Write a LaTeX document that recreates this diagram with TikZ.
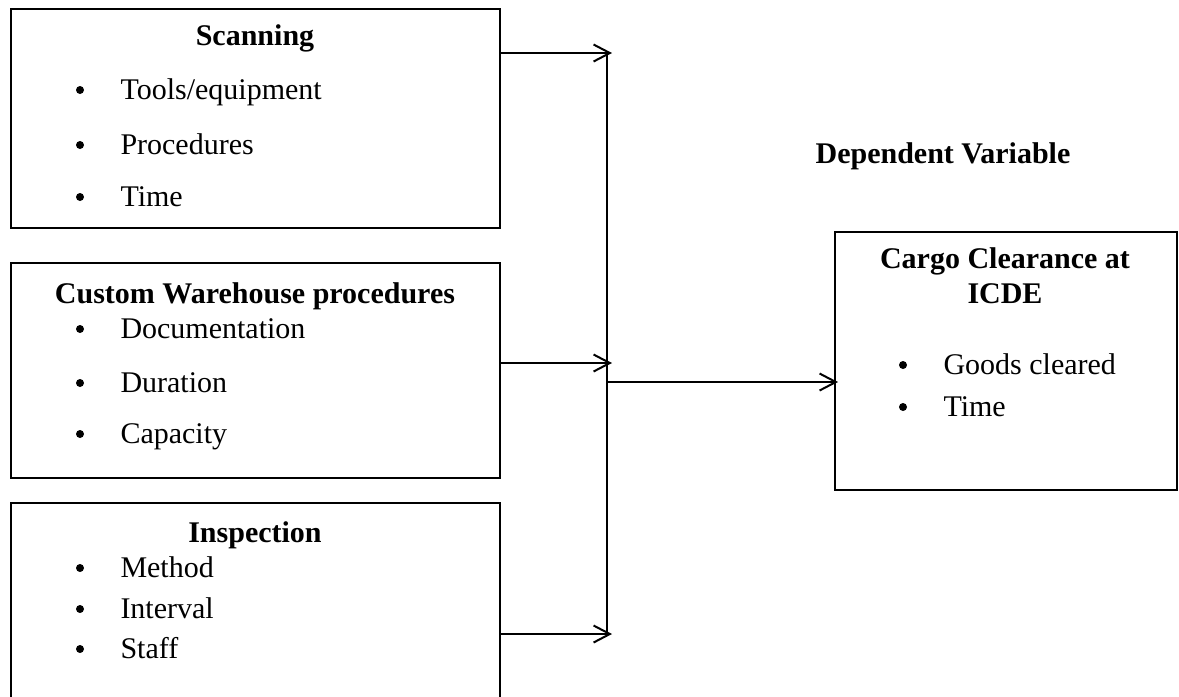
\documentclass[tikz,border=0pt]{standalone}
\usepackage{fontspec}
\setmainfont{Liberation Serif}
\usetikzlibrary{arrows.meta,fit}
\begin{document}
\begin{tikzpicture}[x=0.4pt,y=-0.4pt,
  box/.style={draw, line width=0.6pt, inner sep=0pt},
  head/.style={font=\fontsize{12}{14}\selectfont\bfseries, anchor=base, inner sep=0pt},
  item/.style={font=\fontsize{12}{14}\selectfont, anchor=base west, inner sep=0pt},
  dot/.style={circle, fill, inner sep=0pt, minimum size=3.2pt},
  conn/.style={line width=0.8pt},
  arr/.style={conn, -{Straight Barb[length=6.5pt,width=6.8pt,line width=0.8pt]}}]
\useasboundingbox (0,0) rectangle (1179,696);
\clip (0,0) rectangle (1179,696);
% boxes
\node[box, fit={(11,9) (500,228)}] (b1) {};
\node[box, fit={(11,263) (500,478)}] (b2) {};
\node[box, fit={(11,503) (500,720)}] (b3) {};
\node[box, fit={(835,232) (1177,490)}] (b4) {};
% box 1
\node[head] (h1) at (255,45) {Scanning};
\node[dot] (p11) at (80,90) {};
\node[item] (t11) at (120,99) {Tools/equipment};
\node[dot] (p12) at (80,145) {};
\node[item] (t12) at (120,154) {Procedures};
\node[dot] (p13) at (80,197) {};
\node[item] (t13) at (120,206) {Time};
% box 2
\node[head] (h2) at (255,303) {Custom Warehouse procedures};
\node[dot] (p21) at (80,329) {};
\node[item] (t21) at (120,338) {Documentation};
\node[dot] (p22) at (80,383) {};
\node[item] (t22) at (120,392) {Duration};
\node[dot] (p23) at (80,434) {};
\node[item] (t23) at (120,443) {Capacity};
% box 3
\node[head] (h3) at (255,542) {Inspection};
\node[dot] (p31) at (80,568) {};
\node[item] (t31) at (120,577) {Method};
\node[dot] (p32) at (80,609) {};
\node[item] (t32) at (120,618) {Interval};
\node[dot] (p33) at (80,649) {};
\node[item] (t33) at (120,658) {Staff};
% dependent variable
\node[head] (dv) at (943,163) {Dependent Variable};
\node[head] (h4a) at (1005,268) {Cargo Clearance at};
\node[head] (h4b) at (1005,303) {ICDE};
\node[dot] (p41) at (903,365) {};
\node[item] (t41) at (943,374) {Goods cleared};
\node[dot] (p42) at (903,407) {};
\node[item] (t42) at (943,416) {Time};
% connectors
\coordinate (j1) at (612,53);
\coordinate (j2) at (612,363);
\coordinate (j3) at (612,634);
\coordinate (v1) at (607,53);
\coordinate (v3) at (607,634);
\coordinate (vm) at (607,382);
\coordinate (e4) at (838,382);
\draw[arr] (b1.east |- j1) -- (j1);
\draw[arr] (b2.east |- j2) -- (j2);
\draw[arr] (b3.east |- j3) -- (j3);
\draw[conn] (v1) -- (v3);
\draw[arr] (vm) -- (e4);
\end{tikzpicture}
\end{document}
